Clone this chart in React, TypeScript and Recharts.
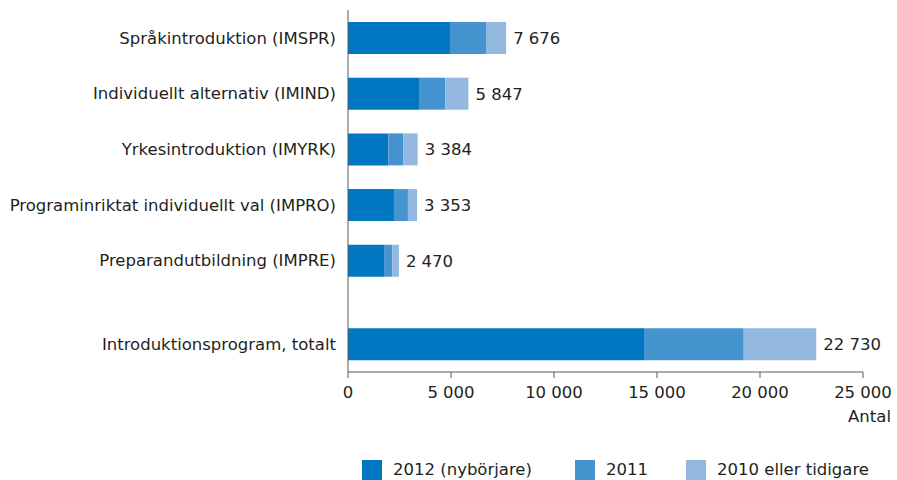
import { BarChart, Bar, XAxis, YAxis, LabelList } from "recharts";

const programs = [
  "Språkintroduktion (IMSPR)",
  "Individuellt alternativ (IMIND)",
  "Yrkesintroduktion (IMYRK)",
  "Programinriktat individuellt val (IMPRO)",
  "Preparandutbildning (IMPRE)",
];
const totalLabel = "Introduktionsprogram, totalt";

const y2012 = [4950, 3445, 1960, 2230, 1750];
const y2011 = [1750, 1280, 725, 680, 390];
const y2010 = [976, 1122, 699, 443, 330];
const total = { y2012: 14370, y2011: 4840, y2010: 3520 };

const xTicks = [0, 5000, 10000, 15000, 20000, 25000];

const FONT = '"DejaVu Sans", Verdana, sans-serif';
const FS = 16.5;
const TEXT = "#231f20";
const AXIS = "#58595b";
const C2012 = "#0077c0";
const C2011 = "#4593cf";
const C2010 = "#94b9e0";

const fmt = (v: number) => String(v).replace(/\B(?=(\d{3})+(?!\d))/g, " ");

// rows 1,3,5,7,9 for programs, then a smaller gap before the total row
const rows = programs.map((name, i) => ({
  slot: i * 2 + 1,
  name,
  y2012: y2012[i],
  y2011: y2011[i],
  y2010: y2010[i],
}));
rows.push({ slot: programs.length * 2 + 2, name: totalLabel, ...total });
const data = rows.map((r) => ({ ...r, sum: r.y2012 + r.y2011 + r.y2010 }));
const slotNames: Record<number, string> = {};
data.forEach((d) => (slotNames[d.slot] = d.name));

const legend = [
  { label: "2012 (nybörjare)", color: C2012, x: 362 },
  { label: "2011", color: C2011, x: 575 },
  { label: "2010 eller tidigare", color: C2010, x: 686 },
];

export default function App() {
  return (
    <div style={{ position: "absolute", left: 0, top: 0, width: 897, height: 480, fontFamily: FONT, color: TEXT }}>
      <BarChart
        width={897}
        height={480}
        data={data}
        layout="vertical"
        margin={{ top: 10, right: 34, left: 0, bottom: 78 }}
      >
        <XAxis
          type="number"
          domain={[0, 25000]}
          ticks={xTicks}
          tickFormatter={fmt}
          height={30}
          stroke={AXIS}
          tickSize={6}
          tickMargin={8}
          tick={{ fontSize: FS, fill: TEXT, fontFamily: FONT }}
        />
        <YAxis
          type="number"
          dataKey="slot"
          domain={[0, 13]}
          ticks={data.map((d) => d.slot)}
          tickFormatter={(v: number) => slotNames[v] ?? ""}
          width={348}
          stroke={AXIS}
          tickLine={false}
          tickMargin={6}
          interval={0}
          tick={{ fontSize: FS, fill: TEXT, fontFamily: FONT }}
        />
        <Bar dataKey="y2012" stackId="a" fill={C2012} barSize={32} isAnimationActive={false} />
        <Bar dataKey="y2011" stackId="a" fill={C2011} barSize={32} isAnimationActive={false} />
        <Bar dataKey="y2010" stackId="a" fill={C2010} barSize={32} isAnimationActive={false}>
          <LabelList
            dataKey="sum"
            position="right"
            offset={7}
            formatter={(v: any) => fmt(Number(v))}
            fill={TEXT}
            fontSize={FS}
            fontFamily={FONT}
          />
        </Bar>
      </BarChart>
      <div style={{ position: "absolute", right: 6, top: 407, fontSize: FS }}>Antal</div>
      {legend.map((l) => (
        <div key={l.label} style={{ position: "absolute", left: l.x, top: 460, display: "flex", alignItems: "center" }}>
          <div style={{ width: 20, height: 20, background: l.color, marginRight: 11 }} />
          <span style={{ fontSize: FS, lineHeight: "20px" }}>{l.label}</span>
        </div>
      ))}
    </div>
  );
}
